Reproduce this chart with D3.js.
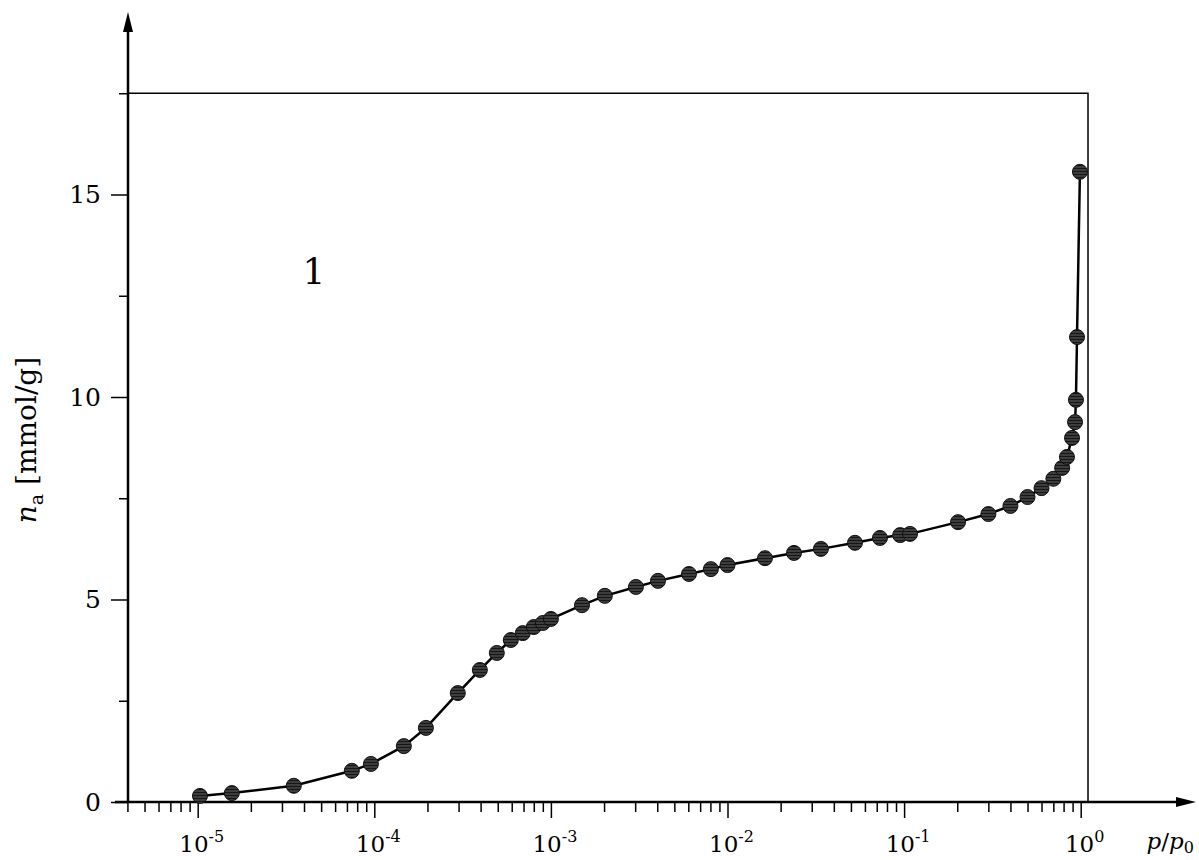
<!DOCTYPE html>
<html>
<head>
<meta charset="utf-8">
<script src="https://cdn.jsdelivr.net/npm/d3@7"></script>
<style>
  body { margin: 0; background: #fff; }
  svg text { font-family: "DejaVu Serif", serif; fill: #000; }
</style>
</head>
<body>
<svg id="Vis" width="1199" height="860"></svg>
<script>
// relative pressure p/p0
var pressure = [1.03e-5, 1.56e-5, 3.5e-5, 7.46e-5, 9.57e-5, 1.47e-4, 1.96e-4, 2.97e-4, 3.96e-4, 4.94e-4,
  5.93e-4, 6.93e-4, 8.0e-4, 9.0e-4, 1.0e-3, 1.5e-3, 2.02e-3, 3.03e-3, 4.04e-3, 6.05e-3,
  8.05e-3, 1.0e-2, 1.63e-2, 2.38e-2, 3.38e-2, 5.27e-2, 7.3e-2, 9.5e-2, 0.108, 0.202,
  0.30, 0.40, 0.50, 0.60, 0.70, 0.785, 0.836, 0.893, 0.929, 0.94, 0.953, 0.99];
// adsorbed amount [mmol/g]
var adsorbed = [0.15, 0.22, 0.40, 0.77, 0.94, 1.38, 1.83, 2.69, 3.26, 3.68,
  4.0, 4.17, 4.32, 4.42, 4.52, 4.86, 5.09, 5.31, 5.46, 5.63,
  5.75, 5.85, 6.02, 6.15, 6.25, 6.40, 6.52, 6.59, 6.62, 6.91,
  7.11, 7.31, 7.53, 7.75, 7.98, 8.25, 8.52, 8.99, 9.38, 9.93, 11.48, 15.56];

var xMajor = [1e-5, 1e-4, 1e-3, 1e-2, 1e-1, 1];
var xMajorExp = ["-5", "-4", "-3", "-2", "-1", "0"];
var yMajor = [0, 5, 10, 15];
var yMinor = [2.5, 7.5, 12.5, 17.5];

var svg = d3.select("#Vis");

var x0 = 128, yBase = 802;
// 10^-5 at 197.7, 10^0 at 1080.7
var x = d3.scaleLog().domain([1e-5, 1]).range([197.7, 1080.7]);
var y = d3.scaleLinear().domain([0, 15]).range([yBase, yBase - 15 * 40.5]);

var xMinor = [];
for (var e = -6; e <= -1; e++) {
  for (var m = 2; m <= 9; m++) {
    var v = m * Math.pow(10, e);
    if (v >= 4e-6 && v < 1) xMinor.push(v);
  }
}

var defs = svg.append("defs");
var pat = defs.append("pattern")
  .attr("id", "hatch")
  .attr("patternUnits", "userSpaceOnUse")
  .attr("width", 6).attr("height", 3);
pat.append("rect").attr("width", 6).attr("height", 3).attr("fill", "#3d3d3d");
pat.append("line").attr("x1", 0).attr("x2", 6).attr("y1", 0.5).attr("y2", 0.5)
  .attr("stroke", "#161616").attr("stroke-width", 1);

// frame (top and right)
var yTop = y(17.5), xRight = x(1.1);
svg.append("path")
  .attr("d", "M" + x0 + "," + yTop + "H" + xRight + "V" + yBase)
  .attr("fill", "none").attr("stroke", "#000").attr("stroke-width", 1.5);

// x ticks
var gx = svg.append("g").attr("transform", "translate(0," + yBase + ")");
gx.call(d3.axisBottom(x).tickValues(xMajor).tickSize(16).tickFormat(""));
gx.append("g").call(d3.axisBottom(x).tickValues(xMinor).tickSize(10).tickFormat(""));
gx.selectAll(".domain").remove();
gx.selectAll("line").attr("stroke", "#000").attr("stroke-width", 1.5);

var lab = svg.append("g");
xMajor.forEach(function(v, i) {
  var t = lab.append("text")
    .attr("x", x(v) + 4).attr("y", 852)
    .attr("text-anchor", "middle")
    .style("font-size", "23px");
  t.append("tspan").text("10");
  t.append("tspan").attr("dy", -10).style("font-size", "16px").text(xMajorExp[i]);
});

// y ticks
var gy = svg.append("g").attr("transform", "translate(" + x0 + ",0)");
gy.call(d3.axisLeft(y).tickValues(yMajor).tickSize(17).tickPadding(10));
gy.append("g").call(d3.axisLeft(y).tickValues(yMinor).tickSize(9).tickFormat(""));
gy.selectAll(".domain").remove();
gy.selectAll("line").attr("stroke", "#000").attr("stroke-width", 1.5);
gy.selectAll("text").style("font-size", "25px").attr("font-family", "DejaVu Serif").attr("fill", "#000");

// axis lines with arrows
svg.append("line").attr("x1", x0).attr("x2", x0).attr("y1", yBase).attr("y2", 28)
  .attr("stroke", "#000").attr("stroke-width", 2.5);
svg.append("path").attr("d", "M" + x0 + ",12 L" + (x0 - 5) + ",32 L" + (x0 + 5) + ",32 Z").attr("fill", "#000");
svg.append("line").attr("x1", 115).attr("x2", 1180).attr("y1", yBase).attr("y2", yBase)
  .attr("stroke", "#000").attr("stroke-width", 2.5);
svg.append("path").attr("d", "M1196," + yBase + " L1176," + (yBase - 5) + " L1176," + (yBase + 5) + " Z").attr("fill", "#000");

// data line
var line = d3.line().x(function(d, i) { return x(pressure[i]); }).y(function(d) { return y(d); });
svg.append("path").datum(adsorbed)
  .attr("d", line).attr("fill", "none").attr("stroke", "#000").attr("stroke-width", 2.5);

svg.append("g").selectAll("circle")
  .data(adsorbed).enter().append("circle")
  .attr("cx", function(d, i) { return x(pressure[i]); })
  .attr("cy", function(d) { return y(d); })
  .attr("r", 7.5)
  .attr("fill", "url(#hatch)")
  .attr("stroke", "#111").attr("stroke-width", 1);

// labels
var yl = svg.append("text")
  .attr("transform", "translate(36,440) rotate(-90)")
  .attr("text-anchor", "middle")
  .style("font-size", "28px");
yl.append("tspan").style("font-style", "italic").text("n");
yl.append("tspan").attr("dy", 7).style("font-size", "19px").text("a");
yl.append("tspan").attr("dy", -7).text(" [mmol/g]");

var xl = svg.append("text").attr("x", 1194).attr("y", 849)
  .attr("text-anchor", "end").style("font-size", "23px");
xl.append("tspan").style("font-style", "italic").text("p");
xl.append("tspan").text("/");
xl.append("tspan").style("font-style", "italic").text("p");
xl.append("tspan").attr("dy", 4).style("font-size", "16px").text("0");

svg.append("text").attr("x", 314).attr("y", 284).attr("text-anchor", "middle")
  .style("font-size", "36px").text("1");
</script>
</body>
</html>
